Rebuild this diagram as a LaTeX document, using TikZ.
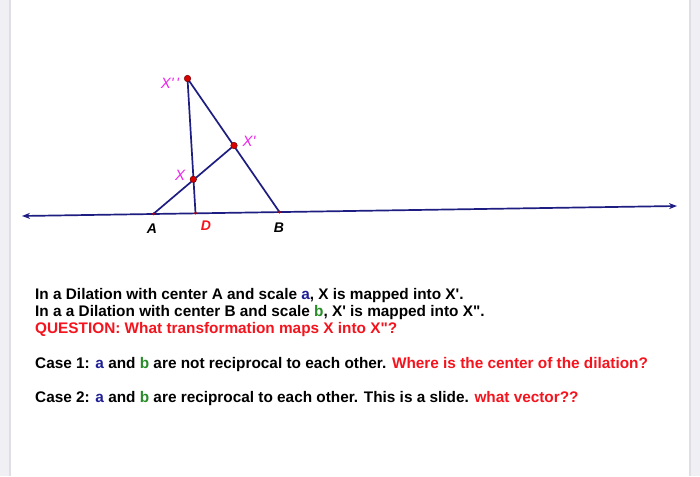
\documentclass[tikz,border=0pt]{standalone}
\usepackage{fontspec}
\setmainfont{Liberation Sans}[Ligatures=TeXOff]
\usetikzlibrary{arrows.meta}
\definecolor{navy}{RGB}{30,30,130}
\definecolor{mag}{RGB}{235,40,235}
\definecolor{redt}{RGB}{245,20,30}
\definecolor{bluea}{RGB}{30,30,150}
\definecolor{greenb}{RGB}{40,140,40}
\definecolor{band}{RGB}{239,239,244}
\definecolor{bandedge}{RGB}{222,222,228}
\newcommand{\sq}{\symbol{39}}
\newcommand{\dq}{\symbol{34}}
\tikzset{
  seg/.style={draw=navy, line width=1.7pt},
  pt/.style={circle, fill=red!85!black, draw=red!45!black, line width=0.5pt, inner sep=0pt, minimum size=6.5pt},
  tick/.style={circle, fill=red!70!black, inner sep=0pt, minimum size=3pt},
  xlab/.style={text=mag, font=\fontsize{15}{17}\selectfont\itshape, inner sep=0pt},
  plab/.style={text=black, font=\fontsize{14}{16}\selectfont\bfseries\itshape, inner sep=0pt},
  txt/.style={anchor=base west, inner sep=0pt, font=\fontsize{15.35}{17}\selectfont\bfseries}
}
\begin{document}
\begin{tikzpicture}[x=1pt,y=-1pt]
\useasboundingbox (0,0) rectangle (700,476);
\fill[white] (0,0) rectangle (700,476);
\fill[band] (0,0) rectangle (9,476);
\fill[bandedge] (9,0) rectangle (10.5,476);
\fill[band] (690,0) rectangle (700,476);
\fill[bandedge] (689,0) rectangle (690.5,476);
% points
\coordinate (L) at (22,216);
\coordinate (R) at (677,206);
\coordinate (A) at (153.5,213.8);
\coordinate (D) at (195.5,213.2);
\coordinate (B) at (279.5,212.1);
\coordinate (X2) at (187.5,78.5);
\coordinate (X1) at (234,145.5);
\coordinate (X) at (193.3,179.3);
% lines
\draw[seg, {Stealth[length=8pt,width=6pt]}-{Stealth[length=8pt,width=6pt]}] (L) -- (R);
\draw[seg] (A) -- (X1);
\draw[seg] (X2) -- (B);
\draw[seg] (X2) -- (D);
% marks
\node[tick] (tA) at (A) {};
\node[tick] (tD) at (D) {};
\node[tick] (tB) at (B) {};
\node[pt] (pX2) at (X2) {};
\node[pt] (pX1) at (X1) {};
\node[pt] (pX) at (X) {};
% labels
\node[xlab] (lX2) at (170,83) {X\sq\,\sq};
\node[xlab] (lX1) at (249,141) {X\sq};
\node[xlab] (lX) at (180,175) {X};
\node[plab] (lA) at (152,229) {A};
\node[plab, text=redt] (lD) at (206,226) {D};
\node[plab] (lB) at (279,228) {B};
% text
\node[txt] (t1) at (35,299) {In a Dilation with center A and scale \textcolor{bluea}{a}, X is mapped into X\sq.};
\node[txt] (t2) at (35,316) {In a a Dilation with center B and scale \textcolor{greenb}{b}, X\sq{} is mapped into X\dq.};
\node[txt, text=redt] (t3) at (35,333) {QUESTION: What transformation maps X into X\dq?};
\node[txt] (t4) at (35,368) {Case 1: \textcolor{bluea}{a} and \textcolor{greenb}{b} are not reciprocal to each other. \textcolor{redt}{Where is the center of the dilation?}};
\node[txt] (t5) at (35,402) {Case 2: \textcolor{bluea}{a} and \textcolor{greenb}{b} are reciprocal to each other. This is a slide. \textcolor{redt}{what vector??}};
\end{tikzpicture}
\end{document}
